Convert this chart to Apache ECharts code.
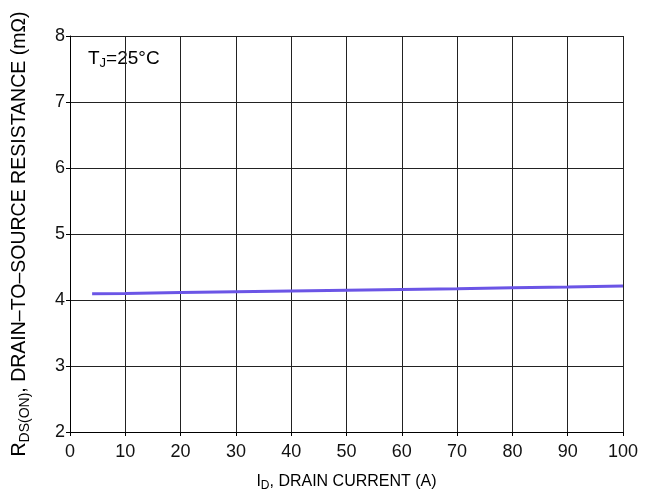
<!DOCTYPE html>
<html>
<head>
<meta charset="utf-8">
<script src="https://cdn.jsdelivr.net/npm/echarts@6/dist/echarts.min.js"></script>
<style>
  html, body { margin: 0; padding: 0; background: #fff; }
  #chart { width: 650px; height: 497px; }
</style>
</head>
<body>
<div id="chart"></div>
<script>
// drain current (A) and on-resistance (mOhm)
var drainCurrent = [4, 10, 20, 30, 40, 50, 60, 70, 80, 90, 100];
var rdsOn = [4.095, 4.10, 4.112, 4.124, 4.136, 4.148, 4.160, 4.172, 4.185, 4.198, 4.212];
var xTicks = [0, 10, 20, 30, 40, 50, 60, 70, 80, 90, 100];
var yTicks = [2, 3, 4, 5, 6, 7, 8];

var font = 'Liberation Sans, Arial, Helvetica, sans-serif';
var chart = echarts.init(document.getElementById('chart'));

var points = drainCurrent.map(function (x, i) { return [x, rdsOn[i]]; });

var option = {
    animation: false,
    backgroundColor: '#fff',
    grid: { left: 70, right: 27, top: 36, bottom: 65, show: false, containLabel: false, outerBoundsMode: 'none' },
    xAxis: {
        type: 'value',
        min: xTicks[0], max: xTicks[xTicks.length - 1], interval: 10,
        name: '{m|I}{s|D}{m|, DRAIN CURRENT (A)}',
        nameLocation: 'middle', nameGap: 39,
        nameTextStyle: {
            rich: {
                m: { fontFamily: font, fontSize: 16, color: '#000' },
                s: { fontFamily: font, fontSize: 12, color: '#000', padding: [9, 0, 0, 0] }
            }
        },
        axisLine: { show: true, lineStyle: { color: '#000', width: 1 } },
        axisTick: { show: true, length: 4, lineStyle: { color: '#000' } },
        axisLabel: { fontFamily: font, fontSize: 18, color: '#111', margin: 11 },
        splitLine: { show: true, lineStyle: { color: '#222', width: 1 } }
    },
    yAxis: {
        type: 'value',
        min: yTicks[0], max: yTicks[yTicks.length - 1], interval: 1,
        name: '{m|R}{s|DS(ON)}{m|, DRAIN\u2013TO\u2013SOURCE RESISTANCE (m\u03A9)}',
        nameLocation: 'middle', nameGap: 38, nameRotate: 90,
        nameTextStyle: {
            rich: {
                m: { fontFamily: font, fontSize: 19.5, color: '#000' },
                s: { fontFamily: font, fontSize: 14, color: '#000', padding: [10, 0, 0, 0] }
            }
        },
        axisLine: { show: true, lineStyle: { color: '#000', width: 1 } },
        axisTick: { show: true, length: 4, lineStyle: { color: '#000' } },
        axisLabel: { fontFamily: font, fontSize: 18, color: '#111', margin: 5, padding: [6, 0, 0, 0] },
        splitLine: { show: true, lineStyle: { color: '#222', width: 1 } }
    },
    graphic: [{
        type: 'text',
        left: 88, top: 49,
        style: {
            text: '{m|T}{s|J}{m|=25\u00B0C}',
            rich: {
                m: { fontFamily: font, fontSize: 19, fill: '#000' },
                s: { fontFamily: font, fontSize: 13, fill: '#000', padding: [9, 0, 0, 0] }
            }
        }
    }],
    series: [{
        type: 'line',
        data: points,
        symbol: 'none',
        lineStyle: { color: '#6b55e6', width: 3 }
    }]
};
chart.setOption(option);
</script>
</body>
</html>
